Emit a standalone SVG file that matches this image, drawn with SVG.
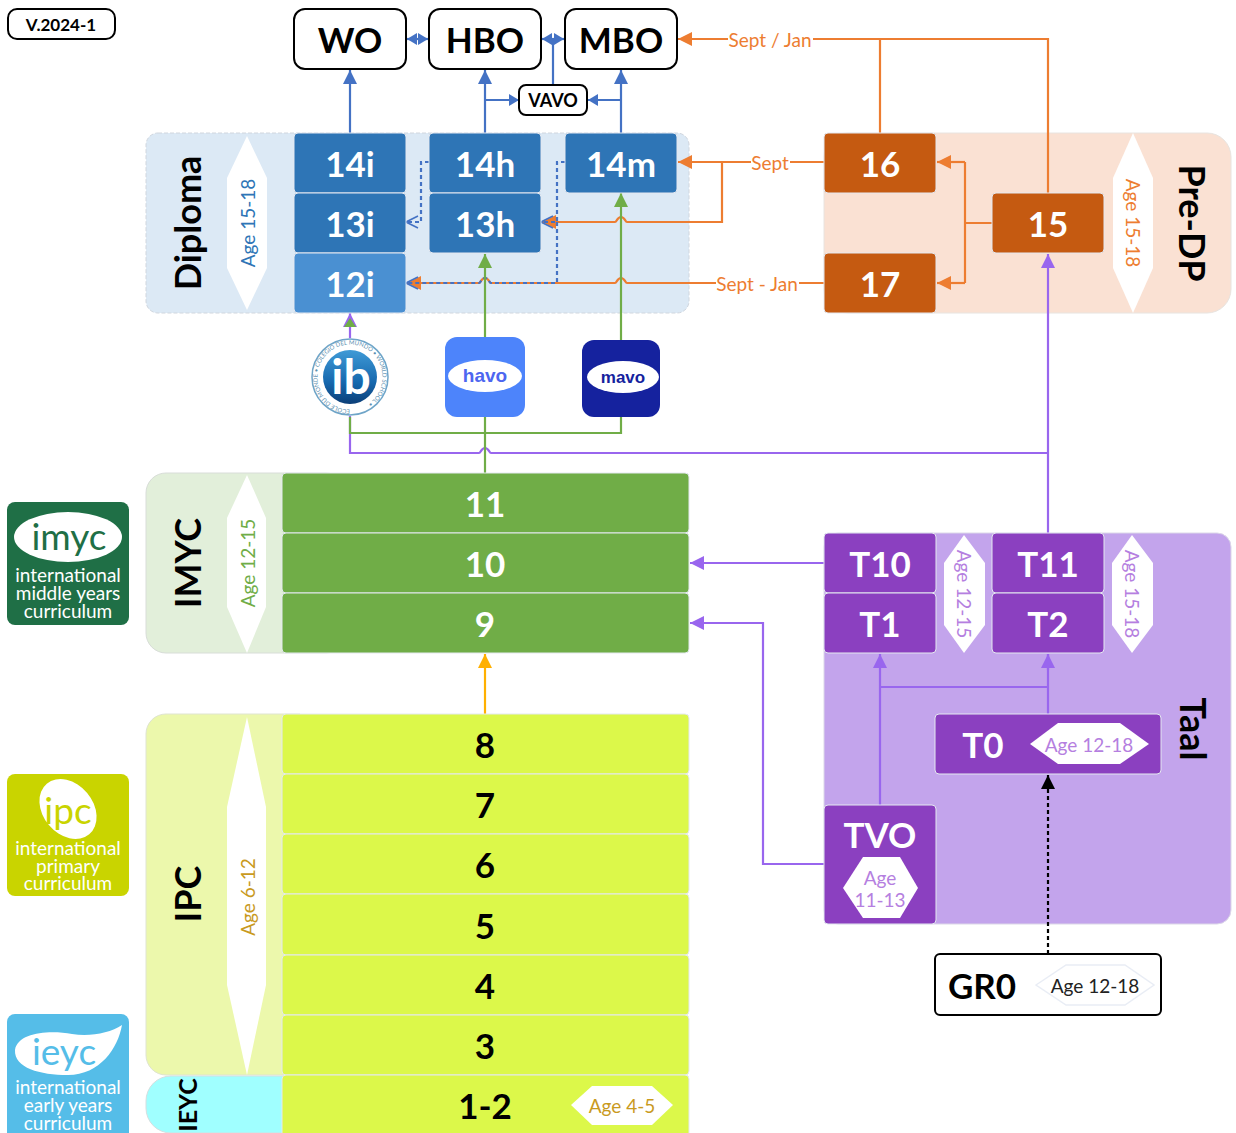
<svg xmlns="http://www.w3.org/2000/svg" width="1236" height="1133" viewBox="0 0 1236 1133">
<defs>
<style>
text{font-family:"Lato","Carlito","Open Sans",sans-serif;text-anchor:middle;dominant-baseline:central}
.b{font-weight:700}
.n{font-weight:700;font-size:35px;fill:#fff}
.k{font-weight:700;font-size:35px;fill:#000}
.h{font-weight:700;font-size:36px;fill:#000}
.a{font-size:19px}
.box{fill:#fff;stroke:#000;stroke-width:2}
.cell{stroke:#e4e8f0;stroke-width:1}
.blue{fill:#2e75b6}.org{fill:#c55a11}.pur{fill:#8b40c0}.grn{fill:#70ad47}.lim{fill:#dcf84a}
.hex{fill:#fff}
.c{fill:none;stroke-width:2.2}
.cb{stroke:#4472c4}.co{stroke:#ed7d31}.cg{stroke:#70ad47}.cp{stroke:#9966ee}
.lbl{font-size:19px;fill:#ed7d31}
.logo{fill:#fff;font-size:19px}
</style>
<marker id="mb" markerUnits="userSpaceOnUse" markerWidth="16" markerHeight="16" refX="15" refY="8" orient="auto-start-reverse"><path d="M1,1 L15,8 L1,15Z" fill="#4472c4"/></marker>
<marker id="mbs" markerUnits="userSpaceOnUse" markerWidth="12" markerHeight="14" refX="11" refY="7" orient="auto-start-reverse"><path d="M1,1 L11,7 L1,13Z" fill="#4472c4"/></marker>
<marker id="mbo" markerUnits="userSpaceOnUse" markerWidth="16" markerHeight="16" refX="15" refY="8" orient="auto"><path d="M3,2 L15,8 L3,14" fill="none" stroke="#4472c4" stroke-width="1.6"/></marker>
<marker id="mo" markerUnits="userSpaceOnUse" markerWidth="16" markerHeight="16" refX="15" refY="8" orient="auto"><path d="M1,1 L15,8 L1,15Z" fill="#ed7d31"/></marker>
<marker id="mg" markerUnits="userSpaceOnUse" markerWidth="16" markerHeight="16" refX="15" refY="8" orient="auto"><path d="M1,1 L15,8 L1,15Z" fill="#70ad47"/></marker>
<marker id="mp" markerUnits="userSpaceOnUse" markerWidth="16" markerHeight="16" refX="15" refY="8" orient="auto"><path d="M1,1 L15,8 L1,15Z" fill="#9966ee"/></marker>
<marker id="my" markerUnits="userSpaceOnUse" markerWidth="16" markerHeight="16" refX="15" refY="8" orient="auto"><path d="M1,1 L15,8 L1,15Z" fill="#ffb000"/></marker>
<marker id="mk" markerUnits="userSpaceOnUse" markerWidth="16" markerHeight="16" refX="15" refY="8" orient="auto"><path d="M1,1 L15,8 L1,15Z" fill="#000"/></marker>
<linearGradient id="ibg" x1="0" y1="0" x2="0" y2="1"><stop offset="0" stop-color="#3f9ad6"/><stop offset="0.6" stop-color="#1668ae"/><stop offset="1" stop-color="#0c3f78"/></linearGradient>
<path id="ibt" d="M350,409.500 A32.500,32.500 0 1 1 350.010,409.500"/>
</defs>
<rect width="1236" height="1133" fill="#fff"/>

<g id="regions">
<rect id="diploma" x="146" y="133" width="543" height="180" rx="12" fill="#dce9f5" stroke="#d0d6de" stroke-dasharray="4 2"/>
<rect id="predp" x="824" y="133" width="407" height="180" rx="24" fill="#fae1d3" stroke="#e8e4e0"/>
<rect id="imyc" x="146" y="473" width="200" height="180" rx="20" fill="#e2efda" stroke="#d8ddd8"/>
<path id="ipc" d="M166,714H300V1075H166A20,20 0 0 1 146,1055V734A20,20 0 0 1 166,714Z" fill="#ecf8ac" stroke="#dfe4d0"/>
<path id="ieyc" d="M171,1076H300V1133H171A25,25 0 0 1 146,1108V1101A25,25 0 0 1 171,1076Z" fill="#a0ffff" stroke="#d4dfe0"/>
<rect id="taal" x="824" y="533" width="407" height="391" rx="14" fill="#c3a4ec" stroke="#dcd8e8"/>
<text class="h" transform="translate(187,223) rotate(-90)">Diploma</text>
<text class="h" transform="translate(1193,223) rotate(90)">Pre-DP</text>
<text class="h" transform="translate(187,563) rotate(-90)">IMYC</text>
<text class="h" transform="translate(187,894) rotate(-90)">IPC</text>
<text class="b" font-size="25" transform="translate(187,1105) rotate(-90)">IEYC</text>
<text class="h" transform="translate(1194,729) rotate(90)">Taal</text>
<polygon class="hex" points="247,136 267,178 267,268 247,310 227,268 227,178"/>
<text class="a" fill="#2e75b6" transform="translate(247,223) rotate(-90)">Age 15-18</text>
<polygon class="hex" points="247,475 266,518 266,607 247,653 227,607 227,518"/>
<text class="a" fill="#70ad47" transform="translate(247,563) rotate(-90)">Age 12-15</text>
<polygon class="hex" points="247,717 266,807 266,985 247,1075 227,985 227,807"/>
<text class="a" fill="#c99a1e" transform="translate(247,897) rotate(-90)">Age 6-12</text>
<polygon class="hex" points="1133,133 1153,178 1153,268 1133,313 1113,268 1113,178"/>
<text class="a" fill="#ed7d31" transform="translate(1133,223) rotate(90)">Age 15-18</text>
</g>

<g id="connectors">
<path class="c cb" d="M350,133V70" marker-end="url(#mb)"/>
<path class="c cb" d="M485,133V70" marker-end="url(#mb)"/>
<path class="c cb" d="M621,133V70" marker-end="url(#mb)"/>
<path class="c cb" d="M485,100H519" marker-end="url(#mbs)"/>
<path class="c cb" d="M621,100H588" marker-end="url(#mbs)"/>
<path class="c cb" d="M553,85V39"/>
<path class="c cb" d="M407,39H428" marker-start="url(#mbs)" marker-end="url(#mbs)"/>
<path class="c cb" d="M542,39H564" marker-start="url(#mbs)" marker-end="url(#mbs)"/>
<path class="c co" d="M880,133V39H678" marker-end="url(#mo)"/>
<path class="c co" d="M1048,193V39H880"/>
<path class="c co" d="M824,162H678" marker-end="url(#mo)"/>
<path class="c co" d="M722,162V222H627C625,222 625,217 621,217C617,217 617,222 615,222H542" marker-end="url(#mo)"/>
<path class="c co" d="M824,283H627C625,283 625,278 621,278C617,278 617,283 615,283H491C489,283 489,278 485,278C481,278 481,283 479,283H407" marker-end="url(#mo)"/>
<path class="c co" d="M992,223H965M965,162V283"/>
<path class="c co" d="M965,162H937" marker-end="url(#mo)"/>
<path class="c co" d="M965,283H937" marker-end="url(#mo)"/>
<path class="c cb" stroke-dasharray="4 3" d="M429,162H421V222H406" marker-end="url(#mbo)"/>
<path class="c cb" stroke-dasharray="4 3" d="M565,162H557V222H541" marker-end="url(#mbo)"/>
<path class="c cb" stroke-dasharray="4 3" d="M557,222V283H491C489,283 489,278 485,278C481,278 481,283 479,283H406" marker-end="url(#mbo)"/>
<path class="c cp" d="M1048,533V254" marker-end="url(#mp)"/>
<path class="c cp" d="M1048,453H491C489,453 489,448 485,448C481,448 481,453 479,453H350V416"/>
<path class="c cp" d="M350,340V313" marker-end="url(#mp)"/>
<path class="c cg" d="M485,473V417"/>
<path class="c cg" d="M621,417V433H350V417"/>
<path class="c cg" d="M485,337V254" marker-end="url(#mg)"/>
<path class="c cg" d="M621,340V193" marker-end="url(#mg)"/>
<path d="M350,318L356,327H344Z" fill="#70ad47"/>
<path class="c cp" d="M824,563H690" marker-end="url(#mp)"/>
<path class="c cp" d="M824,864H763V623H690" marker-end="url(#mp)"/>
<path class="c cp" d="M880,805V654" marker-end="url(#mp)"/>
<path class="c cp" d="M1048,714V654"/>
<path d="M1040,654L1048,654" fill="none"/>
<path class="c cp" d="M880,687H1048"/>
<path class="c" stroke="#9966ee" d="M1048,670V654" marker-end="url(#mp)"/>
<path class="c" stroke="#ffb000" d="M485,714V654" marker-end="url(#my)"/>
<path class="c" stroke="#000" stroke-dasharray="4 3" d="M1048,954V775" marker-end="url(#mk)"/>
<rect x="728" y="28" width="85" height="22" fill="#fff"/><text class="lbl" x="770" y="39">Sept / Jan</text>
<rect x="751" y="151" width="39" height="22" fill="#fff"/><text class="lbl" x="770" y="162">Sept</text>
<rect x="716" y="272" width="83" height="22" fill="#fff"/><text class="lbl" x="757" y="283">Sept - Jan</text>
</g>

<g id="version"><rect x="8" y="9" width="107" height="30" rx="9" class="box"/><text class="b" font-size="17" x="61" y="24">V.2024-1</text></g>
<g id="wo"><rect x="294" y="9" width="112" height="60" rx="11" class="box"/><text class="k" x="350" y="39">WO</text></g>
<g id="hbo"><rect x="429" y="9" width="112" height="60" rx="11" class="box"/><text class="k" x="485" y="39">HBO</text></g>
<g id="mbo"><rect x="565" y="9" width="112" height="60" rx="11" class="box"/><text class="k" x="621" y="39">MBO</text></g>
<g id="vavo"><rect x="519" y="85" width="68" height="30" rx="7" class="box"/><text class="b" font-size="18" x="553" y="100">VAVO</text></g>

<g id="n14i"><rect class="cell blue" x="294" y="133" width="112" height="60" rx="4"/><text class="n" x="350" y="163">14i</text></g>
<g id="n13i"><rect class="cell blue" x="294" y="193" width="112" height="60" rx="4"/><text class="n" x="350" y="223">13i</text></g>
<g id="n12i"><rect class="cell" fill="#4a90d2" x="294" y="253" width="112" height="60" rx="4"/><text class="n" x="350" y="283">12i</text></g>
<g id="n14h"><rect class="cell blue" x="429" y="133" width="112" height="60" rx="4"/><text class="n" x="485" y="163">14h</text></g>
<g id="n13h"><rect class="cell blue" x="429" y="193" width="112" height="60" rx="4"/><text class="n" x="485" y="223">13h</text></g>
<g id="n14m"><rect class="cell blue" x="565" y="133" width="112" height="60" rx="4"/><text class="n" x="621" y="163">14m</text></g>

<g id="n16"><rect class="cell org" x="824" y="133" width="112" height="60" rx="4"/><text class="n" x="880" y="163">16</text></g>
<g id="n15"><rect class="cell org" x="992" y="193" width="112" height="60" rx="4"/><text class="n" x="1048" y="223">15</text></g>
<g id="n17"><rect class="cell org" x="824" y="253" width="112" height="60" rx="4"/><text class="n" x="880" y="283">17</text></g>

<g id="n11"><rect class="cell grn" x="282" y="473" width="407" height="60" rx="4"/><text class="n" x="485" y="503">11</text></g>
<g id="n10"><rect class="cell grn" x="282" y="533" width="407" height="60" rx="4"/><text class="n" x="485" y="563">10</text></g>
<g id="n9"><rect class="cell grn" x="282" y="593" width="407" height="60" rx="4"/><text class="n" x="485" y="623">9</text></g>

<g id="n8"><rect class="cell lim" x="282" y="714" width="407" height="60" rx="4"/><text class="k" x="485" y="744">8</text></g>
<g id="n7"><rect class="cell lim" x="282" y="774" width="407" height="60" rx="4"/><text class="k" x="485" y="804">7</text></g>
<g id="n6"><rect class="cell lim" x="282" y="834" width="407" height="60" rx="4"/><text class="k" x="485" y="864">6</text></g>
<g id="n5"><rect class="cell lim" x="282" y="894" width="407" height="61" rx="4"/><text class="k" x="485" y="925">5</text></g>
<g id="n4"><rect class="cell lim" x="282" y="955" width="407" height="60" rx="4"/><text class="k" x="485" y="985">4</text></g>
<g id="n3"><rect class="cell lim" x="282" y="1015" width="407" height="60" rx="4"/><text class="k" x="485" y="1045">3</text></g>
<g id="n1-2"><rect class="cell lim" x="282" y="1075" width="407" height="70" rx="4"/><text class="k" x="485" y="1105">1-2</text>
<polygon class="hex" points="571,1105 592,1086 652,1086 673,1105 652,1125 592,1125"/><text class="a" fill="#c99a1e" x="622" y="1105">Age 4-5</text></g>

<g id="t10"><rect class="cell pur" x="824" y="533" width="112" height="60" rx="4"/><text class="n" x="880" y="563">T10</text></g>
<g id="t1"><rect class="cell pur" x="824" y="593" width="112" height="60" rx="4"/><text class="n" x="880" y="623">T1</text></g>
<g id="t11"><rect class="cell pur" x="992" y="533" width="112" height="60" rx="4"/><text class="n" x="1048" y="563">T11</text></g>
<g id="t2"><rect class="cell pur" x="992" y="593" width="112" height="60" rx="4"/><text class="n" x="1048" y="623">T2</text></g>
<g id="age-t1"><polygon class="hex" points="964,535 985,563 985,625 964,653 944,625 944,563"/><text class="a" fill="#b57fe0" transform="translate(964,594) rotate(90)">Age 12-15</text></g>
<g id="age-t2"><polygon class="hex" points="1132,535 1153,563 1153,625 1132,653 1112,625 1112,563"/><text class="a" fill="#b57fe0" transform="translate(1132,594) rotate(90)">Age 15-18</text></g>
<g id="t0"><rect class="cell pur" x="935" y="714" width="226" height="60" rx="4"/><text class="n" x="983" y="744">T0</text>
<polygon class="hex" points="1030,744 1058,723 1120,723 1149,744 1120,764 1058,764"/><text class="a" fill="#b57fe0" x="1089" y="744">Age 12-18</text></g>
<g id="tvo"><rect class="cell pur" x="824" y="805" width="112" height="119" rx="4"/><text class="n" x="880" y="834">TVO</text>
<polygon class="hex" points="843,888 863,857 900,857 918,888 900,918 863,918"/><text class="a" fill="#b57fe0" x="880" y="877">Age</text><text class="a" fill="#b57fe0" x="880" y="899">11-13</text></g>
<g id="gr0"><rect x="935" y="954" width="226" height="61" rx="5" class="box"/><text class="k" x="982" y="985">GR0</text>
<polygon fill="#fff" stroke="#e9edf5" stroke-width="1.5" points="1036,985 1066,965 1125,965 1154,985 1125,1005 1066,1005"/><text class="a" fill="#222" x="1095" y="985">Age 12-18</text></g>

<g id="logo-ib"><circle cx="350" cy="377" r="39" fill="#fff"/><circle cx="350" cy="377" r="38" fill="#fff" stroke="#6fa5c8" stroke-width="1.5"/><circle cx="350" cy="377" r="27" fill="url(#ibg)"/>
<text font-size="6" fill="#5c8fb0" style="text-anchor:start;dominant-baseline:auto"><textPath href="#ibt">ECOLE DU MONDE • COLEGIO DEL MUNDO • WORLD SCHOOL •</textPath></text>
<text class="b" x="351" y="375" font-size="48" fill="#fff">ib</text></g>
<g id="logo-havo"><rect x="445" y="337" width="80" height="80" rx="12" fill="#4d84fb"/><ellipse cx="485" cy="376" rx="37" ry="16" fill="#fff"/><text class="b" x="485" y="375" font-size="19" fill="#4d66f0" style="font-family:'Liberation Sans',sans-serif">havo</text></g>
<g id="logo-mavo"><rect x="582" y="340" width="78" height="77" rx="12" fill="#15229e"/><ellipse cx="623" cy="377" rx="36" ry="16" fill="#fff"/><text class="b" x="623" y="377" font-size="17" fill="#15229e" style="font-family:'Liberation Sans',sans-serif">mavo</text></g>

<g id="logo-imyc"><rect x="7" y="502" width="122" height="123" rx="8" fill="#1f6f46"/><ellipse cx="68" cy="537" rx="54" ry="25" fill="#fff"/><text x="69" y="535" font-size="37" fill="#1f6f46">imyc</text>
<text class="logo" x="68" y="574">international</text><text class="logo" x="68" y="592">middle years</text><text class="logo" x="68" y="610">curriculum</text></g>
<g id="logo-ipc"><rect x="7" y="774" width="122" height="122" rx="8" fill="#c9d400"/><ellipse cx="68" cy="809" rx="33" ry="25" fill="#fff" transform="rotate(50 68 809)"/><text x="68" y="809" font-size="37" fill="#c9d400">ipc</text>
<text class="logo" x="68" y="847">international</text><text class="logo" x="68" y="865">primary</text><text class="logo" x="68" y="882">curriculum</text></g>
<g id="logo-ieyc"><path d="M15,1014H121A8,8 0 0 1 129,1022V1133H7V1022A8,8 0 0 1 15,1014Z" fill="#55bde8"/><path d="M15,1050C18,1032 50,1030 72,1034C90,1037 110,1033 122,1025C118,1048 100,1075 68,1075C40,1075 14,1068 15,1050Z" fill="#fff"/><text x="64" y="1050" font-size="37" fill="#55bde8">ieyc</text>
<text class="logo" x="68" y="1086">international</text><text class="logo" x="68" y="1104">early years</text><text class="logo" x="68" y="1122">curriculum</text></g>
</svg>
